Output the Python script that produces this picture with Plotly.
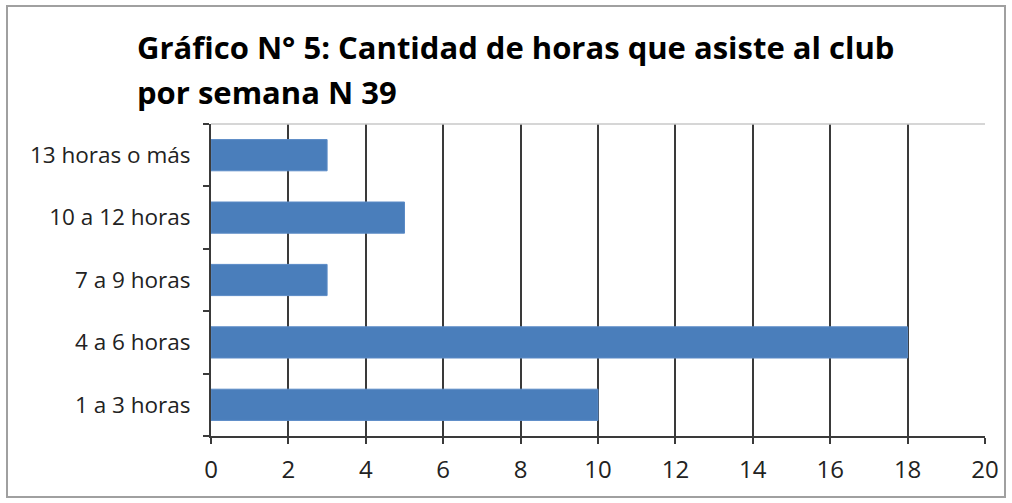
import plotly.graph_objects as go

categories = ["1 a 3 horas", "4 a 6 horas", "7 a 9 horas", "10 a 12 horas", "13 horas o más"]
values = [10, 18, 3, 5, 3]
x_ticks = [0, 2, 4, 6, 8, 10, 12, 14, 16, 18, 20]
title_lines = ["Gráfico N° 5: Cantidad de horas que asiste al club", "por semana N 39"]

W, H = 1012, 503
L, R, T, B = 211, 985, 124, 436
pw, ph = R - L, B - T

fig = go.Figure(go.Bar(
    y=categories, x=values, orientation="h",
    marker=dict(color="#4a7ebb", line=dict(color="#5a8ac6", width=1)),
    width=0.5,
))

font = "Open Sans"
annotations = []
for line, cy in zip(title_lines, [47, 92]):
    annotations.append(dict(
        text="<b>" + line + "</b>", showarrow=False,
        xref="paper", yref="paper",
        x=(135 - L) / pw, xanchor="left",
        y=(B - cy) / ph, yanchor="middle",
        font=dict(family=font, size=31, color="black"),
    ))

fig.update_layout(
    width=W, height=H,
    margin=dict(l=L, r=W - R, t=T, b=H - B, pad=0),
    paper_bgcolor="white", plot_bgcolor="white",
    showlegend=False,
    annotations=annotations,
    xaxis=dict(
        range=[0, 20], tickvals=x_ticks, ticktext=[str(v) for v in x_ticks],
        showgrid=True, gridcolor="#3a3a3a", gridwidth=1.5,
        zeroline=False, showline=True, linecolor="#3a3a3a", linewidth=2,
        ticks="outside", ticklen=6, tickcolor="#3a3a3a", tickwidth=2,
        tickfont=dict(family=font, size=24, color="#222"),
        ticklabelstandoff=5,
        fixedrange=True,
    ),
    yaxis=dict(
        categoryorder="array", categoryarray=categories,
        showgrid=False, zeroline=False,
        showline=True, linecolor="#3a3a3a", linewidth=2,
        ticks="outside", ticklen=6, tickcolor="#3a3a3a", tickwidth=2,
        tickson="boundaries",
        tickfont=dict(family=font, size=22.5, color="#222"),
        ticklabelstandoff=14,
        fixedrange=True,
    ),
    shapes=[
        dict(type="line", xref="paper", yref="paper", x0=0, x1=1, y0=1, y1=1,
             line=dict(color="#c8c8c8", width=1.5)),
        dict(type="rect", xref="paper", yref="paper",
             x0=(7 - L) / pw, x1=(1005 - L) / pw,
             y0=(B - 497) / ph, y1=(B - 6) / ph,
             line=dict(color="#a0a0a0", width=2), layer="below"),
    ],
)

fig.write_html("out.html", config={"displayModeBar": False},
               post_script="document.body.style.margin='0';")
